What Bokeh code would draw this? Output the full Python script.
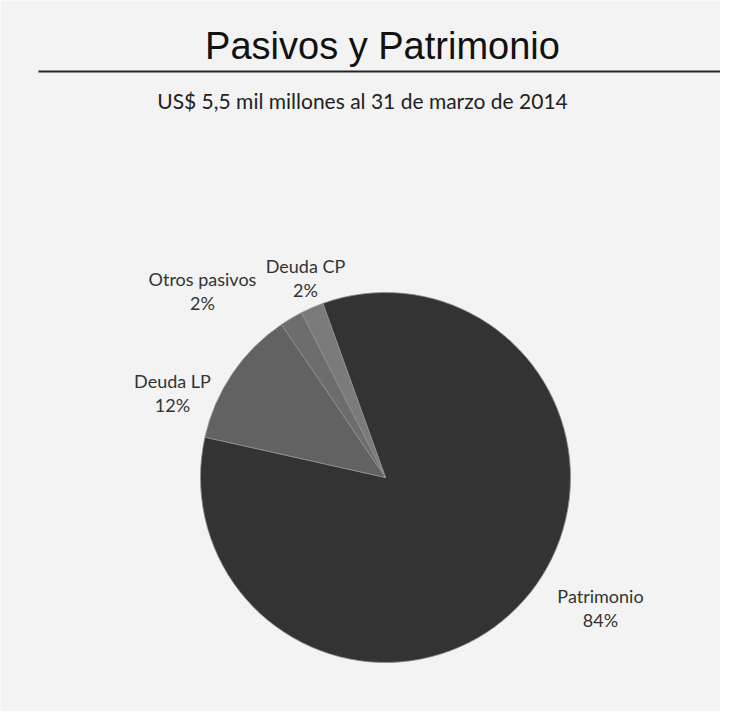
import math
from bokeh.plotting import figure
from bokeh.models import Range1d, ColumnDataSource
from bokeh.core.properties import value
from bokeh.embed import file_html
from bokeh.resources import INLINE

# Data
categories = ["Patrimonio", "Deuda LP", "Otros pasivos", "Deuda CP"]
shares = [84, 12, 2, 2]
label_pct = ["84%", "12%", "2%", "2%"]
colors = ["#333333", "#626262", "#6d6d6d", "#7b7b7b"]
title_text = "Pasivos y Patrimonio"
subtitle_text = "US$ 5,5 mil millones al 31 de marzo de 2014"

W, H = 720, 711
IMG_H = 727


def Y(py):
    return IMG_H - py


p = figure(width=W, height=H, output_backend="svg", toolbar_location=None,
           x_range=Range1d(0, W), y_range=Range1d(IMG_H - H, IMG_H),
           min_border=0)
p.axis.visible = False
p.grid.visible = False
p.outline_line_color = None
p.background_fill_color = "#f3f3f3"
p.border_fill_color = "#f3f3f3"

# Pie
cx, cy, r = 385, Y(477), 185
start_deg = 109.8
total = float(sum(shares))
starts, ends = [], []
a = math.radians(start_deg)
for s in shares:
    sweep = 2 * math.pi * s / total
    starts.append(a)
    ends.append(a - sweep)
    a -= sweep

src = ColumnDataSource(dict(start=starts, end=ends, color=colors, cat=categories))
p.wedge(x=cx, y=cy, radius=r, start_angle="start", end_angle="end",
        direction="clock", fill_color="color", line_color="#8f8f8f",
        line_width=0.8, source=src)

# Title, rule, subtitle
p.text(x=[382], y=[Y(45)], text=[title_text], text_font=value("Liberation Sans"),
       text_font_size="38px", text_align="center", text_baseline="middle",
       text_color="#111111")
p.segment(x0=[38], y0=[Y(71)], x1=[728], y1=[Y(71)], line_color="#222222", line_width=2)
p.text(x=[362], y=[Y(100)], text=[subtitle_text], text_font=value("Lato"),
       text_font_size="21px", text_align="center", text_baseline="middle",
       text_color="#222222")

# Labels (name line and percent line)
label_x = [600, 172, 202, 305]
label_y = [595, 380, 278, 265]
names_src = ColumnDataSource(dict(x=label_x, y=[Y(v) for v in label_y], t=categories))
pct_src = ColumnDataSource(dict(x=label_x, y=[Y(v + 24) for v in label_y], t=label_pct))
for s in (names_src, pct_src):
    p.text(x="x", y="y", text="t", source=s, text_font=value("Lato"),
           text_font_size="18px", text_align="center", text_baseline="middle",
           text_color="#333333")

open("out.html", "w").write(file_html(p, INLINE))
